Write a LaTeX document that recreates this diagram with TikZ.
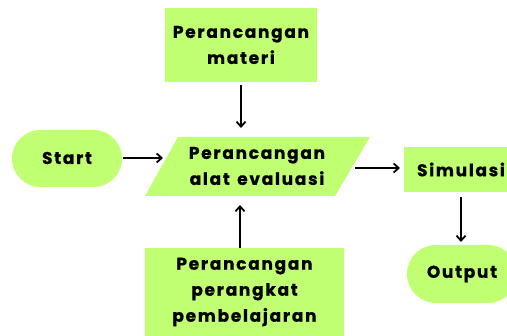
\documentclass[tikz,border=0pt]{standalone}
\usepackage{fontspec}
\setmainfont{Poppins}[UprightFont=* Bold, BoldFont=* Bold, LetterSpace=10, FakeBold=0.8, WordSpace=1.4]
\usetikzlibrary{arrows.meta}
\definecolor{lime}{HTML}{C1FF72}
\begin{document}
\begin{tikzpicture}[x=1pt,y=-1pt,
  lbl/.style={font=\fontsize{17}{26}\selectfont, align=center, text=black},
  conn/.style={line width=2pt, -{Straight Barb[length=5pt,width=9pt,line width=1.8pt]}}]
\useasboundingbox (0,0) rectangle (507,336);
\clip (0,0) rectangle (507,336);
% shapes
\fill[lime, rounded corners=28.5pt] (12,130) rectangle (122,187);
\node[lbl] (start) at (67,158) {Start};
\fill[lime] (178,137) -- (370,137) -- (335,196) -- (145,196) -- cycle;
\node[lbl] (eval) at (257,166) {Perancangan\\alat evaluasi};
\coordinate (evalL) at (163,158);
\coordinate (evalR) at (355,168);
\coordinate (evalT) at (241,128);
\coordinate (evalB) at (240,205);
\fill[lime] (165,8) rectangle (317,82);
\node[lbl] (materi) at (241,45) {Perancangan\\materi};
\coordinate (materiB) at (241,85);
\fill[lime] (145,248) rectangle (344,336);
\node[lbl] (perangkat) at (244.5,292) {Perancangan\\perangkat\\pembelajaran};
\coordinate (perangkatT) at (240,248);
\fill[lime] (404,147) rectangle (518,192);
\node[lbl] (sim) at (461,169.5) {Simulasi};
\coordinate (simL) at (400,168);
\coordinate (simB) at (461,197);
\fill[lime, rounded corners=29pt] (407,245) rectangle (517,303);
\node[lbl] (out) at (462,274) {Output};
\coordinate (outT) at (461,242);
\coordinate (startR) at (123,158);
% connectors
\draw[conn] (startR) -- (evalL |- startR);
\draw[conn] (materiB) -- (evalT);
\draw[conn] (perangkatT) -- (evalB);
\draw[conn] (evalR) -- (simL);
\draw[conn] (simB) -- (outT);
\end{tikzpicture}
\end{document}
